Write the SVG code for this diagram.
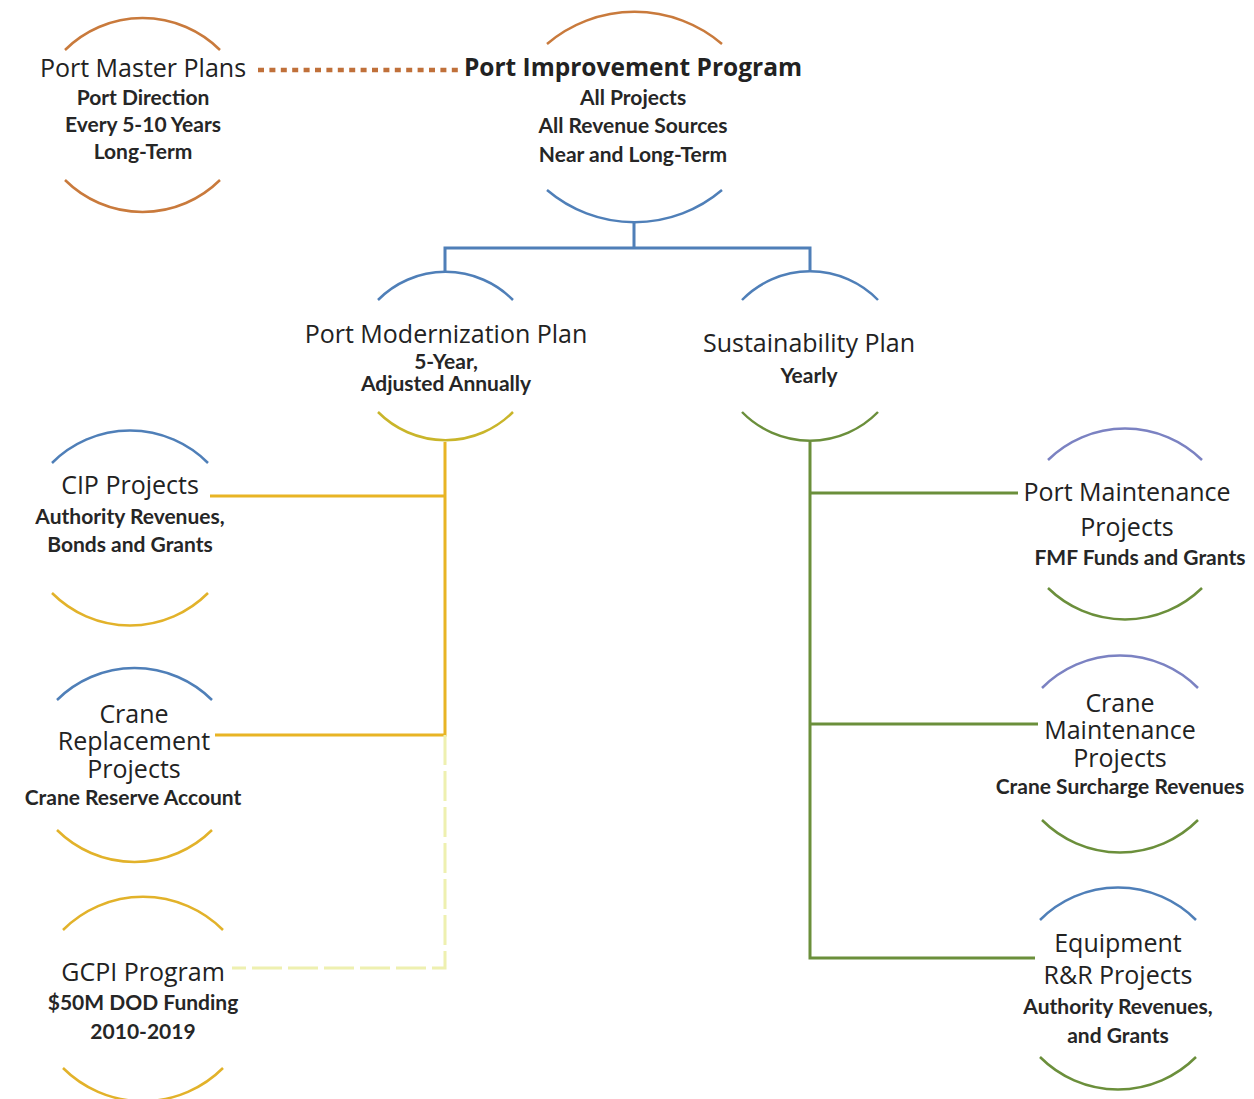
<svg xmlns="http://www.w3.org/2000/svg" width="1254" height="1099" viewBox="0 0 1254 1099">
<style>
.t{font-family:"Open Sans","Liberation Sans",sans-serif;font-size:25px;fill:#222;text-anchor:middle}
.tb{font-family:"Open Sans","Liberation Sans",sans-serif;font-size:24.5px;font-weight:bold;fill:#222;text-anchor:middle}
.s{font-family:Lato,"Liberation Sans",sans-serif;font-size:21px;font-weight:bold;fill:#262626;text-anchor:middle}
.arc{fill:none;stroke-width:2.5}
.or{stroke:#c97a3c}.bl{stroke:#4f7fb8}.ye{stroke:#e2b22a}.gr{stroke:#6b8f3b}.pu{stroke:#7b82c2}.yg{stroke:#c9b52a}
.c{fill:none;stroke-width:3}
</style>
<rect width="1254" height="1099" fill="#fff"/>
<g id="connectors">
<line x1="258" y1="70" x2="462" y2="70" stroke="#c0703a" stroke-width="4.5" stroke-dasharray="6,5.4"/>
<path class="c" stroke="#4f7fb8" d="M634 222V248M445 272V248H810V272"/>
<path class="c" stroke="#e8b424" d="M445 442V735H215M445 496H210"/>
<path class="c" stroke="#eef0b0" d="M445 735V968H232" stroke-dasharray="30,6"/>
<path class="c" stroke="#6b8f3b" d="M810 442V958H1035M810 493H1018M810 724H1038"/>
</g>
<g id="port-master-plans">
<path class="arc or" d="M65 50A110 110 0 0 1 220 50"/>
<path class="arc or" d="M65 180A110 110 0 0 0 220 180"/>
<text class="t" x="143" y="77">Port Master Plans</text>
<text class="s" x="143" y="105">Port Direction</text>
<text class="s" x="143" y="132">Every 5-10 Years</text>
<text class="s" x="143" y="159">Long-Term</text>
</g>
<g id="port-improvement-program">
<path class="arc or" d="M547 44A135 135 0 0 1 722 44"/>
<path class="arc bl" d="M547 190A135 135 0 0 0 722 190"/>
<text class="tb" x="633" y="76">Port Improvement Program</text>
<text class="s" x="633" y="105">All Projects</text>
<text class="s" x="633" y="133">All Revenue Sources</text>
<text class="s" x="633" y="162">Near and Long-Term</text>
</g>
<g id="port-modernization-plan">
<path class="arc bl" d="M378 300A95 95 0 0 1 513 300"/>
<path class="arc yg" d="M378 412A95 95 0 0 0 513 412"/>
<text class="t" x="446" y="343">Port Modernization Plan</text>
<text class="s" x="446" y="369">5-Year,</text>
<text class="s" x="446" y="391">Adjusted Annually</text>
</g>
<g id="sustainability-plan">
<path class="arc bl" d="M742 300A95 95 0 0 1 878 300"/>
<path class="arc gr" d="M742 412A95 95 0 0 0 878 412"/>
<text class="t" x="809" y="352">Sustainability Plan</text>
<text class="s" x="809" y="383">Yearly</text>
</g>
<g id="cip-projects">
<path class="arc bl" d="M52 463A110 110 0 0 1 208 463"/>
<path class="arc ye" d="M52 593A110 110 0 0 0 208 593"/>
<text class="t" x="130" y="494">CIP Projects</text>
<text class="s" x="130" y="524">Authority Revenues,</text>
<text class="s" x="130" y="552">Bonds and Grants</text>
</g>
<g id="crane-replacement-projects">
<path class="arc bl" d="M57 700A110 110 0 0 1 212 700"/>
<path class="arc ye" d="M57 830A110 110 0 0 0 212 830"/>
<text class="t" x="134" y="723">Crane</text>
<text class="t" x="134" y="750">Replacement</text>
<text class="t" x="134" y="778">Projects</text>
<text class="s" x="133" y="805">Crane Reserve Account</text>
</g>
<g id="gcpi-program">
<path class="arc ye" d="M63 930A113 113 0 0 1 223 930"/>
<path class="arc ye" d="M63 1068A113 113 0 0 0 223 1068"/>
<text class="t" x="143" y="981">GCPI Program</text>
<text class="s" x="143" y="1010">$50M  DOD Funding</text>
<text class="s" x="143" y="1039">2010-2019</text>
</g>
<g id="port-maintenance-projects">
<path class="arc pu" d="M1048 460A110 110 0 0 1 1202 460"/>
<path class="arc gr" d="M1048 588A110 110 0 0 0 1202 588"/>
<text class="t" x="1127" y="501">Port Maintenance</text>
<text class="t" x="1127" y="536">Projects</text>
<text class="s" x="1140" y="565">FMF Funds and Grants</text>
</g>
<g id="crane-maintenance-projects">
<path class="arc pu" d="M1042 688A110 110 0 0 1 1198 688"/>
<path class="arc gr" d="M1042 820A110 110 0 0 0 1198 820"/>
<text class="t" x="1120" y="712">Crane</text>
<text class="t" x="1120" y="739">Maintenance</text>
<text class="t" x="1120" y="767">Projects</text>
<text class="s" x="1120" y="794">Crane Surcharge Revenues</text>
</g>
<g id="equipment-rr-projects">
<path class="arc bl" d="M1040 920A110 110 0 0 1 1196 920"/>
<path class="arc gr" d="M1040 1057A110 110 0 0 0 1196 1057"/>
<text class="t" x="1118" y="952">Equipment</text>
<text class="t" x="1118" y="984">R&amp;R Projects</text>
<text class="s" x="1118" y="1014">Authority Revenues,</text>
<text class="s" x="1118" y="1043">and Grants</text>
</g>
</svg>
